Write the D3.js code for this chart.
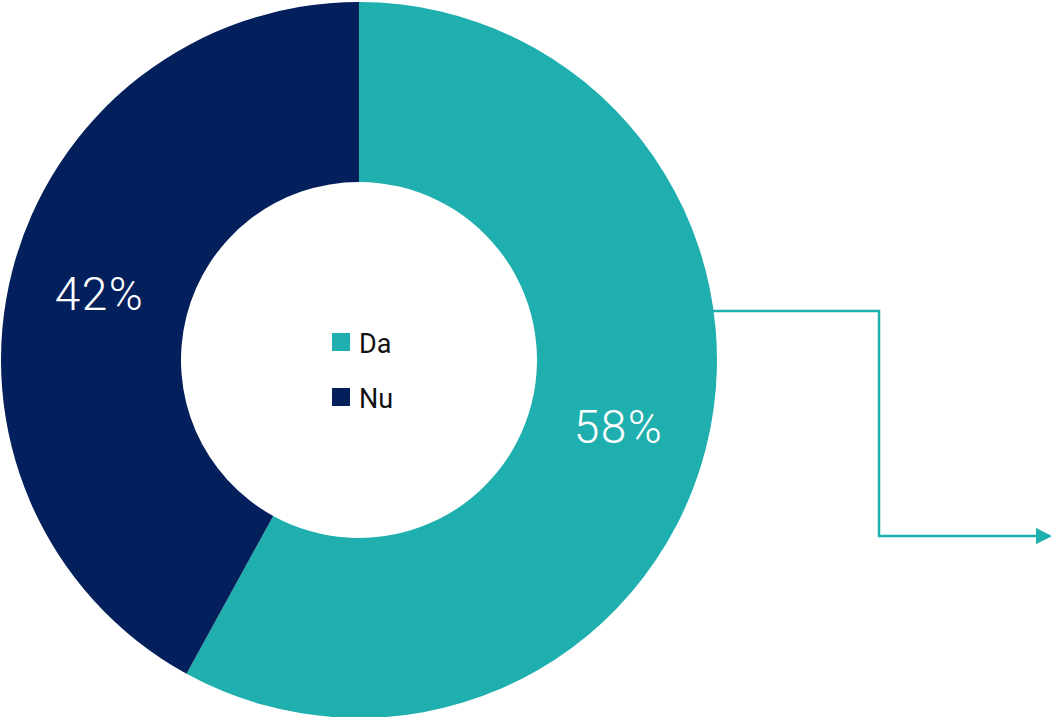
<!DOCTYPE html>
<html>
<head>
<meta charset="utf-8">
<script src="https://cdn.jsdelivr.net/npm/d3@7"></script>
<style>
  html, body { margin: 0; padding: 0; background: #fff; }
  svg { display: block; }
</style>
</head>
<body>
<svg id="chart" width="1051" height="717"></svg>
<script>
const categories = ["Da", "Nu"];
const values = [58, 42];
const labels = ["58%", "42%"];
const colors = ["#1fafaf", "#03205c"];

const svg = d3.select("#chart");
const cx = 359, cy = 360, outerR = 358, innerR = 178;

const g = svg.append("g").attr("transform", `translate(${cx},${cy})`);

const pie = d3.pie().sort(null).value(d => d.value);
const arcs = pie(categories.map((c, i) => ({ name: c, value: values[i], label: labels[i], color: colors[i] })));
const arc = d3.arc().innerRadius(innerR).outerRadius(outerR);

g.selectAll("path.slice")
  .data(arcs)
  .join("path")
  .attr("class", "slice")
  .attr("d", arc)
  .attr("fill", d => d.data.color);

g.selectAll("text.pct")
  .data(arcs)
  .join("text")
  .attr("class", "pct")
  .attr("transform", d => `translate(${arc.centroid(d)})`)
  .attr("text-anchor", "middle")
  .attr("dy", "0.36em")
  .attr("fill", "#fff")
  .style("font-family", "Roboto, 'Noto Sans', sans-serif")
  .style("font-weight", 300)
  .style("font-size", "46px")
  .style("letter-spacing", "1.5px")
  .text(d => d.data.label);

// Legend in center
const legend = svg.append("g").attr("transform", "translate(332,333)");
const items = legend.selectAll("g.item")
  .data(categories)
  .join("g")
  .attr("class", "item")
  .attr("transform", (d, i) => `translate(0,${i * 55})`);
items.append("rect")
  .attr("width", 18).attr("height", 18)
  .attr("fill", (d, i) => colors[i]);
items.append("text")
  .attr("x", 27)
  .attr("y", 20)
  .attr("fill", "#111")
  .style("font-family", "Roboto, 'Noto Sans', sans-serif")
  .style("font-size", "27px")
  .text(d => d);

// Connector arrow from the Da slice
const defs = svg.append("defs");
defs.append("marker")
  .attr("id", "arrow")
  .attr("viewBox", "0 0 10 10")
  .attr("refX", 0).attr("refY", 5)
  .attr("markerWidth", 6.5).attr("markerHeight", 6.5)
  .attr("markerUnits", "strokeWidth")
  .attr("orient", "auto")
  .append("path")
  .attr("d", "M0,0 L10,5 L0,10 Z")
  .attr("fill", colors[0]);

const lineY1 = 311, lineX = 879, lineY2 = 536;
const startX = cx + Math.sqrt(outerR * outerR - (lineY1 - cy) * (lineY1 - cy)) - 2;
svg.append("path")
  .attr("d", `M${startX},${lineY1} H${lineX} V${lineY2} H1036`)
  .attr("fill", "none")
  .attr("stroke", colors[0])
  .attr("stroke-width", 2.5)
  .attr("marker-end", "url(#arrow)");
</script>
</body>
</html>
